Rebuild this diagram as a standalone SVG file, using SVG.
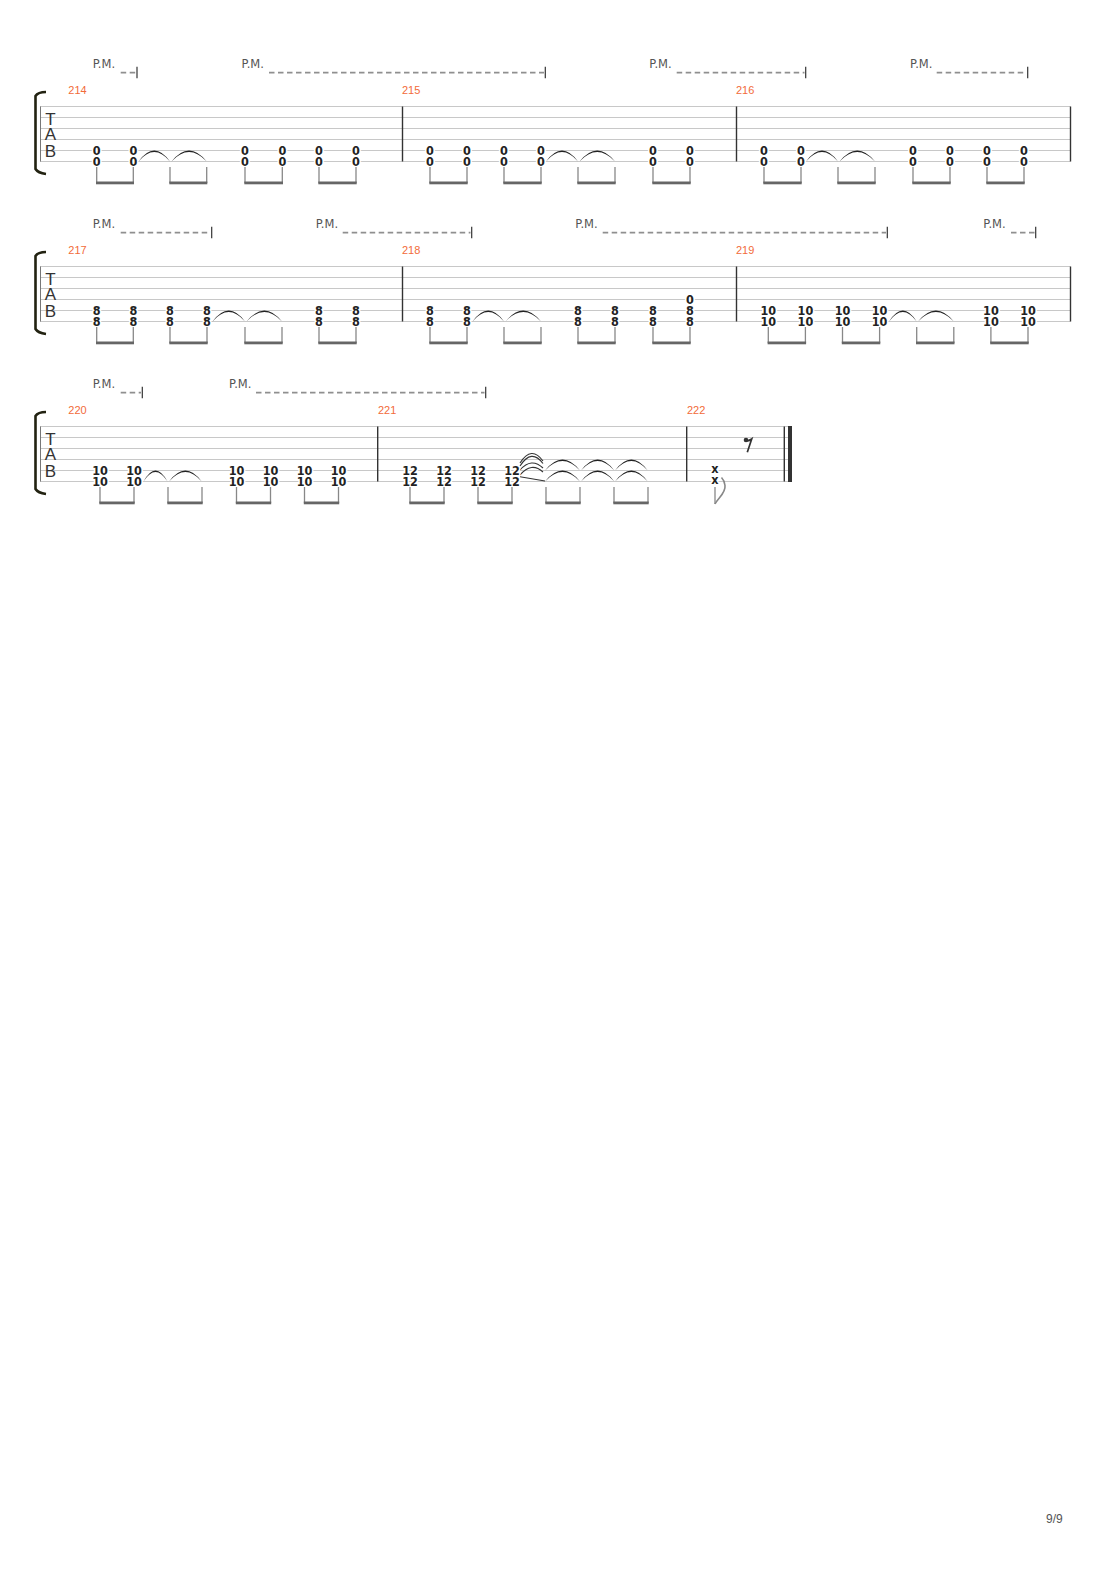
<svg xmlns="http://www.w3.org/2000/svg" width="1110" height="1570" viewBox="0 0 1110 1570">
<defs>
<style>
.st{stroke:#c8c8c8;stroke-width:1;fill:none}
.bar{stroke:#333;stroke-width:1.4}
.sl{stroke:#777;stroke-width:1}
.n{font-family:"DejaVu Sans Condensed","DejaVu Sans",sans-serif;font-stretch:condensed;font-size:12.5px;font-weight:bold;fill:#222;text-anchor:middle;stroke:#fff;stroke-width:3;paint-order:stroke;stroke-linejoin:round}
.mn{font-family:"Liberation Sans",Arial,sans-serif;font-size:11px;fill:#f26b3a}
.pm{font-family:"DejaVu Sans",sans-serif;font-size:11.5px;fill:#555}
.dash{stroke:#8f8f8f;stroke-width:1.8;stroke-dasharray:5.5 3.5}
.tick{stroke:#333;stroke-width:1.2}
.stem{stroke:#888;stroke-width:1.3}
.beam{fill:#666}
.tie{fill:#222}
.tie2{fill:none;stroke:#333;stroke-width:1.1}
.tab{font-family:"Liberation Sans",Arial,sans-serif;font-size:17px;fill:#333;text-anchor:middle}
.br{fill:none;stroke:#222211;stroke-width:2.6}
.pg{font-family:"Liberation Sans",Arial,sans-serif;font-size:12px;fill:#555}
</style>
<g id="staff">
<line class="st" x1="40" y1="106.5" x2="1070.5" y2="106.5"/>
<line class="st" x1="40" y1="117.5" x2="1070.5" y2="117.5"/>
<line class="st" x1="40" y1="128.5" x2="1070.5" y2="128.5"/>
<line class="st" x1="40" y1="139.5" x2="1070.5" y2="139.5"/>
<line class="st" x1="40" y1="150.5" x2="1070.5" y2="150.5"/>
<line class="st" x1="40" y1="161.5" x2="1070.5" y2="161.5"/>
<line class="sl" x1="40.5" y1="106.5" x2="40.5" y2="161.5"/>
<path class="br" d="M46 92 Q38 92 35.5 96 L35.5 169 Q38 173 46 174"/>
<text class="tab" x="50.5" y="125">T<tspan x="50.5" y="140">A</tspan><tspan x="50.5" y="157">B</tspan></text>
</g>
</defs>

<g id="system1">
<use href="#staff"/>
<g id="barlines1">
<line class="bar" x1="402.5" y1="106.5" x2="402.5" y2="161.5"/>
<line class="bar" x1="736.5" y1="106.5" x2="736.5" y2="161.5"/>
<line class="bar" x1="1070.5" y1="106.5" x2="1070.5" y2="161.5"/>
</g>
<text class="mn" x="68.3" y="94">214</text>
<text class="mn" x="402" y="94">215</text>
<text class="mn" x="736" y="94">216</text>
<g id="pm1">
<text class="pm" x="92.7" y="68.3">P.M.</text>
<line class="dash" x1="120.7" y1="72.7" x2="136" y2="72.7"/>
<line class="tick" x1="137" y1="66.7" x2="137" y2="78.3"/>
<text class="pm" x="241.5" y="68.3">P.M.</text>
<line class="dash" x1="269" y1="72.7" x2="544" y2="72.7"/>
<line class="tick" x1="545.3" y1="66.7" x2="545.3" y2="78.3"/>
<text class="pm" x="649.3" y="68.3">P.M.</text>
<line class="dash" x1="676.7" y1="72.7" x2="804.5" y2="72.7"/>
<line class="tick" x1="805.7" y1="66.7" x2="805.7" y2="78.3"/>
<text class="pm" x="910" y="68.3">P.M.</text>
<line class="dash" x1="936.7" y1="72.7" x2="1026.5" y2="72.7"/>
<line class="tick" x1="1027.7" y1="66.7" x2="1027.7" y2="78.3"/>
</g>
<g id="m214">
<path class="tie" d="M138.5 161.5 Q154.3 139.5 170 161.5 Q154.3 142.5 138.5 161.5Z"/>
<path class="tie" d="M171.5 161.5 Q189 139.5 206.7 161.5 Q189 142.5 171.5 161.5Z"/>
<text class="n" x="96.7" y="155">0<tspan x="96.7" dy="11">0</tspan></text>
<text class="n" x="133.3" y="155">0<tspan x="133.3" dy="11">0</tspan></text>
<text class="n" x="245" y="155">0<tspan x="245" dy="11">0</tspan></text>
<text class="n" x="282.3" y="155">0<tspan x="282.3" dy="11">0</tspan></text>
<text class="n" x="319" y="155">0<tspan x="319" dy="11">0</tspan></text>
<text class="n" x="356" y="155">0<tspan x="356" dy="11">0</tspan></text>
<line class="stem" x1="96.7" y1="167" x2="96.7" y2="183"/><line class="stem" x1="133.3" y1="167" x2="133.3" y2="183"/>
<line class="stem" x1="170" y1="167" x2="170" y2="183"/><line class="stem" x1="206.7" y1="167" x2="206.7" y2="183"/>
<line class="stem" x1="245" y1="167" x2="245" y2="183"/><line class="stem" x1="282.3" y1="167" x2="282.3" y2="183"/>
<line class="stem" x1="319" y1="167" x2="319" y2="183"/><line class="stem" x1="356" y1="167" x2="356" y2="183"/>
<rect class="beam" x="96" y="181.5" width="38" height="2.8"/>
<rect class="beam" x="169.3" y="181.5" width="38" height="2.8"/>
<rect class="beam" x="244.3" y="181.5" width="38.7" height="2.8"/>
<rect class="beam" x="318.3" y="181.5" width="38.4" height="2.8"/>
</g>
<g id="m215">
<path class="tie" d="M546 161.5 Q562 139.5 578 161.5 Q562 142.5 546 161.5Z"/>
<path class="tie" d="M579.5 161.5 Q597.3 139.5 615 161.5 Q597.3 142.5 579.5 161.5Z"/>
<text class="n" x="430" y="155">0<tspan x="430" dy="11">0</tspan></text>
<text class="n" x="467" y="155">0<tspan x="467" dy="11">0</tspan></text>
<text class="n" x="504" y="155">0<tspan x="504" dy="11">0</tspan></text>
<text class="n" x="541" y="155">0<tspan x="541" dy="11">0</tspan></text>
<text class="n" x="653" y="155">0<tspan x="653" dy="11">0</tspan></text>
<text class="n" x="690" y="155">0<tspan x="690" dy="11">0</tspan></text>
<line class="stem" x1="430" y1="167" x2="430" y2="183"/><line class="stem" x1="467" y1="167" x2="467" y2="183"/>
<line class="stem" x1="504" y1="167" x2="504" y2="183"/><line class="stem" x1="541" y1="167" x2="541" y2="183"/>
<line class="stem" x1="578" y1="167" x2="578" y2="183"/><line class="stem" x1="615" y1="167" x2="615" y2="183"/>
<line class="stem" x1="653" y1="167" x2="653" y2="183"/><line class="stem" x1="690" y1="167" x2="690" y2="183"/>
<rect class="beam" x="429.3" y="181.5" width="38.4" height="2.8"/>
<rect class="beam" x="503.3" y="181.5" width="38.4" height="2.8"/>
<rect class="beam" x="577.3" y="181.5" width="38.4" height="2.8"/>
<rect class="beam" x="652.3" y="181.5" width="38.4" height="2.8"/>
</g>
<g id="m216">
<path class="tie" d="M806 161.5 Q822 139.5 838 161.5 Q822 142.5 806 161.5Z"/>
<path class="tie" d="M839.5 161.5 Q857.3 139.5 875 161.5 Q857.3 142.5 839.5 161.5Z"/>
<text class="n" x="764" y="155">0<tspan x="764" dy="11">0</tspan></text>
<text class="n" x="801" y="155">0<tspan x="801" dy="11">0</tspan></text>
<text class="n" x="913" y="155">0<tspan x="913" dy="11">0</tspan></text>
<text class="n" x="950" y="155">0<tspan x="950" dy="11">0</tspan></text>
<text class="n" x="987" y="155">0<tspan x="987" dy="11">0</tspan></text>
<text class="n" x="1024" y="155">0<tspan x="1024" dy="11">0</tspan></text>
<line class="stem" x1="764" y1="167" x2="764" y2="183"/><line class="stem" x1="801" y1="167" x2="801" y2="183"/>
<line class="stem" x1="838" y1="167" x2="838" y2="183"/><line class="stem" x1="875" y1="167" x2="875" y2="183"/>
<line class="stem" x1="913" y1="167" x2="913" y2="183"/><line class="stem" x1="950" y1="167" x2="950" y2="183"/>
<line class="stem" x1="987" y1="167" x2="987" y2="183"/><line class="stem" x1="1024" y1="167" x2="1024" y2="183"/>
<rect class="beam" x="763.3" y="181.5" width="38.4" height="2.8"/>
<rect class="beam" x="837.3" y="181.5" width="38.4" height="2.8"/>
<rect class="beam" x="912.3" y="181.5" width="38.4" height="2.8"/>
<rect class="beam" x="986.3" y="181.5" width="38.4" height="2.8"/>
</g>
</g>

<g id="system2" transform="translate(0,160)">
<use href="#staff"/>
<g id="barlines2">
<line class="bar" x1="402.5" y1="106.5" x2="402.5" y2="161.5"/>
<line class="bar" x1="736.5" y1="106.5" x2="736.5" y2="161.5"/>
<line class="bar" x1="1070.5" y1="106.5" x2="1070.5" y2="161.5"/>
</g>
<text class="mn" x="68.3" y="94">217</text>
<text class="mn" x="402" y="94">218</text>
<text class="mn" x="736" y="94">219</text>
<g id="pm2">
<text class="pm" x="92.7" y="68.3">P.M.</text>
<line class="dash" x1="120.7" y1="72.7" x2="210.5" y2="72.7"/>
<line class="tick" x1="211.7" y1="66.7" x2="211.7" y2="78.3"/>
<text class="pm" x="315.7" y="68.3">P.M.</text>
<line class="dash" x1="342.7" y1="72.7" x2="470.5" y2="72.7"/>
<line class="tick" x1="471.7" y1="66.7" x2="471.7" y2="78.3"/>
<text class="pm" x="575.3" y="68.3">P.M.</text>
<line class="dash" x1="602.7" y1="72.7" x2="886" y2="72.7"/>
<line class="tick" x1="887.3" y1="66.7" x2="887.3" y2="78.3"/>
<text class="pm" x="983.3" y="68.3">P.M.</text>
<line class="dash" x1="1011" y1="72.7" x2="1034.5" y2="72.7"/>
<line class="tick" x1="1035.7" y1="66.7" x2="1035.7" y2="78.3"/>
</g>
<g id="m217">
<path class="tie" d="M212.5 161.5 Q228.8 139.5 245 161.5 Q228.8 142.5 212.5 161.5Z"/>
<path class="tie" d="M246.5 161.5 Q264.3 139.5 282 161.5 Q264.3 142.5 246.5 161.5Z"/>
<text class="n" x="96.7" y="155">8<tspan x="96.7" dy="11">8</tspan></text>
<text class="n" x="133.3" y="155">8<tspan x="133.3" dy="11">8</tspan></text>
<text class="n" x="170" y="155">8<tspan x="170" dy="11">8</tspan></text>
<text class="n" x="207" y="155">8<tspan x="207" dy="11">8</tspan></text>
<text class="n" x="319" y="155">8<tspan x="319" dy="11">8</tspan></text>
<text class="n" x="356" y="155">8<tspan x="356" dy="11">8</tspan></text>
<line class="stem" x1="96.7" y1="167" x2="96.7" y2="183"/><line class="stem" x1="133.3" y1="167" x2="133.3" y2="183"/>
<line class="stem" x1="170" y1="167" x2="170" y2="183"/><line class="stem" x1="207" y1="167" x2="207" y2="183"/>
<line class="stem" x1="245" y1="167" x2="245" y2="183"/><line class="stem" x1="282" y1="167" x2="282" y2="183"/>
<line class="stem" x1="319" y1="167" x2="319" y2="183"/><line class="stem" x1="356" y1="167" x2="356" y2="183"/>
<rect class="beam" x="96" y="181.5" width="38" height="2.8"/>
<rect class="beam" x="169.3" y="181.5" width="38.4" height="2.8"/>
<rect class="beam" x="244.3" y="181.5" width="38.4" height="2.8"/>
<rect class="beam" x="318.3" y="181.5" width="38.4" height="2.8"/>
</g>
<g id="m218">
<path class="tie" d="M472.5 161.5 Q488.3 139.5 504 161.5 Q488.3 142.5 472.5 161.5Z"/>
<path class="tie" d="M505.5 161.5 Q523.3 139.5 541 161.5 Q523.3 142.5 505.5 161.5Z"/>
<text class="n" x="430" y="155">8<tspan x="430" dy="11">8</tspan></text>
<text class="n" x="467" y="155">8<tspan x="467" dy="11">8</tspan></text>
<text class="n" x="578" y="155">8<tspan x="578" dy="11">8</tspan></text>
<text class="n" x="615" y="155">8<tspan x="615" dy="11">8</tspan></text>
<text class="n" x="653" y="155">8<tspan x="653" dy="11">8</tspan></text>
<text class="n" x="690" y="144">0<tspan x="690" dy="11">8</tspan><tspan x="690" dy="11">8</tspan></text>
<line class="stem" x1="430" y1="167" x2="430" y2="183"/><line class="stem" x1="467" y1="167" x2="467" y2="183"/>
<line class="stem" x1="504" y1="167" x2="504" y2="183"/><line class="stem" x1="541" y1="167" x2="541" y2="183"/>
<line class="stem" x1="578" y1="167" x2="578" y2="183"/><line class="stem" x1="615" y1="167" x2="615" y2="183"/>
<line class="stem" x1="653" y1="167" x2="653" y2="183"/><line class="stem" x1="690" y1="167" x2="690" y2="183"/>
<rect class="beam" x="429.3" y="181.5" width="38.4" height="2.8"/>
<rect class="beam" x="503.3" y="181.5" width="38.4" height="2.8"/>
<rect class="beam" x="577.3" y="181.5" width="38.4" height="2.8"/>
<rect class="beam" x="652.3" y="181.5" width="38.4" height="2.8"/>
</g>
<g id="m219">
<path class="tie" d="M889 161.5 Q902.8 139.5 916.7 161.5 Q902.8 142.5 889 161.5Z"/>
<path class="tie" d="M918 161.5 Q935.9 139.5 953.8 161.5 Q935.9 142.5 918 161.5Z"/>
<text class="n" x="768.3" y="155">10<tspan x="768.3" dy="11">10</tspan></text>
<text class="n" x="805.4" y="155">10<tspan x="805.4" dy="11">10</tspan></text>
<text class="n" x="842.5" y="155">10<tspan x="842.5" dy="11">10</tspan></text>
<text class="n" x="879.6" y="155">10<tspan x="879.6" dy="11">10</tspan></text>
<text class="n" x="990.9" y="155">10<tspan x="990.9" dy="11">10</tspan></text>
<text class="n" x="1028" y="155">10<tspan x="1028" dy="11">10</tspan></text>
<line class="stem" x1="768.3" y1="167" x2="768.3" y2="183"/><line class="stem" x1="805.4" y1="167" x2="805.4" y2="183"/>
<line class="stem" x1="842.5" y1="167" x2="842.5" y2="183"/><line class="stem" x1="879.6" y1="167" x2="879.6" y2="183"/>
<line class="stem" x1="916.7" y1="167" x2="916.7" y2="183"/><line class="stem" x1="953.8" y1="167" x2="953.8" y2="183"/>
<line class="stem" x1="990.9" y1="167" x2="990.9" y2="183"/><line class="stem" x1="1028" y1="167" x2="1028" y2="183"/>
<rect class="beam" x="767.6" y="181.5" width="38.5" height="2.8"/>
<rect class="beam" x="841.8" y="181.5" width="38.5" height="2.8"/>
<rect class="beam" x="916" y="181.5" width="38.5" height="2.8"/>
<rect class="beam" x="990.2" y="181.5" width="38.5" height="2.8"/>
</g>
</g>

<g id="system3" transform="translate(0,320)">
<g id="staff3">
<line class="st" x1="40" y1="106.5" x2="788" y2="106.5"/>
<line class="st" x1="40" y1="117.5" x2="788" y2="117.5"/>
<line class="st" x1="40" y1="128.5" x2="788" y2="128.5"/>
<line class="st" x1="40" y1="139.5" x2="788" y2="139.5"/>
<line class="st" x1="40" y1="150.5" x2="788" y2="150.5"/>
<line class="st" x1="40" y1="161.5" x2="788" y2="161.5"/>
<line class="sl" x1="40.5" y1="106.5" x2="40.5" y2="161.5"/>
<path class="br" d="M46 92 Q38 92 35.5 96 L35.5 169 Q38 173 46 174"/>
<text class="tab" x="50.5" y="125">T<tspan x="50.5" y="140">A</tspan><tspan x="50.5" y="157">B</tspan></text>
</g>
<g id="barlines3">
<line class="bar" x1="377.7" y1="106.5" x2="377.7" y2="161.5"/>
<line class="bar" x1="686.7" y1="106.5" x2="686.7" y2="161.5"/>
<line class="bar" x1="784.3" y1="106.5" x2="784.3" y2="161.5"/>
<rect x="788" y="106" width="4" height="56" fill="#333"/>
</g>
<text class="mn" x="68.3" y="94">220</text>
<text class="mn" x="378" y="94">221</text>
<text class="mn" x="687" y="94">222</text>
<g id="pm3">
<text class="pm" x="92.7" y="68.3">P.M.</text>
<line class="dash" x1="120.7" y1="72.7" x2="141" y2="72.7"/>
<line class="tick" x1="142.3" y1="66.7" x2="142.3" y2="78.3"/>
<text class="pm" x="229" y="68.3">P.M.</text>
<line class="dash" x1="256" y1="72.7" x2="484.5" y2="72.7"/>
<line class="tick" x1="485.7" y1="66.7" x2="485.7" y2="78.3"/>
</g>
<g id="m220">
<path class="tie" d="M143.5 161.5 Q155.5 139.5 167.5 161.5 Q155.5 142.5 143.5 161.5Z"/>
<path class="tie" d="M169 161.5 Q185.4 139.5 201.7 161.5 Q185.4 142.5 169 161.5Z"/>
<text class="n" x="100" y="155">10<tspan x="100" dy="11">10</tspan></text>
<text class="n" x="134" y="155">10<tspan x="134" dy="11">10</tspan></text>
<text class="n" x="236.5" y="155">10<tspan x="236.5" dy="11">10</tspan></text>
<text class="n" x="270.5" y="155">10<tspan x="270.5" dy="11">10</tspan></text>
<text class="n" x="304.5" y="155">10<tspan x="304.5" dy="11">10</tspan></text>
<text class="n" x="338.5" y="155">10<tspan x="338.5" dy="11">10</tspan></text>
<line class="stem" x1="100" y1="167" x2="100" y2="183"/><line class="stem" x1="134" y1="167" x2="134" y2="183"/>
<line class="stem" x1="168" y1="167" x2="168" y2="183"/><line class="stem" x1="202" y1="167" x2="202" y2="183"/>
<line class="stem" x1="236.5" y1="167" x2="236.5" y2="183"/><line class="stem" x1="270.5" y1="167" x2="270.5" y2="183"/>
<line class="stem" x1="304.5" y1="167" x2="304.5" y2="183"/><line class="stem" x1="338.5" y1="167" x2="338.5" y2="183"/>
<rect class="beam" x="99.3" y="181.5" width="35.4" height="2.8"/>
<rect class="beam" x="167.3" y="181.5" width="35.4" height="2.8"/>
<rect class="beam" x="235.8" y="181.5" width="35.4" height="2.8"/>
<rect class="beam" x="303.8" y="181.5" width="35.4" height="2.8"/>
</g>
<g id="m221">
<path class="tie2" d="M520 143 Q531.5 125 543 141"/>
<path class="tie2" d="M520 146 Q531.5 128 543 143.5"/>
<path class="tie2" d="M520 150 Q531.5 137 543 148"/>
<path class="tie2" d="M520 155 Q531.5 141.5 543 152"/>
<path class="tie2" d="M520 156.7 L545 161"/>
<path class="tie" d="M545 150.5 Q562.5 128.5 580 150.5 Q562.5 131.5 545 150.5Z"/>
<path class="tie" d="M545 161.5 Q562.5 139.5 580 161.5 Q562.5 142.5 545 161.5Z"/>
<path class="tie" d="M581 150.5 Q597.7 128.5 614.3 150.5 Q597.7 131.5 581 150.5Z"/>
<path class="tie" d="M581 161.5 Q597.7 139.5 614.3 161.5 Q597.7 142.5 581 161.5Z"/>
<path class="tie" d="M615 150.5 Q631.4 128.5 647.7 150.5 Q631.4 131.5 615 150.5Z"/>
<path class="tie" d="M615 161.5 Q631.4 139.5 647.7 161.5 Q631.4 142.5 615 161.5Z"/>
<text class="n" x="410" y="155">12<tspan x="410" dy="11">12</tspan></text>
<text class="n" x="444" y="155">12<tspan x="444" dy="11">12</tspan></text>
<text class="n" x="478" y="155">12<tspan x="478" dy="11">12</tspan></text>
<text class="n" x="512" y="155">12<tspan x="512" dy="11">12</tspan></text>
<line class="stem" x1="410" y1="167" x2="410" y2="183"/><line class="stem" x1="444" y1="167" x2="444" y2="183"/>
<line class="stem" x1="478" y1="167" x2="478" y2="183"/><line class="stem" x1="512" y1="167" x2="512" y2="183"/>
<line class="stem" x1="546" y1="167" x2="546" y2="183"/><line class="stem" x1="580" y1="167" x2="580" y2="183"/>
<line class="stem" x1="614" y1="167" x2="614" y2="183"/><line class="stem" x1="648" y1="167" x2="648" y2="183"/>
<rect class="beam" x="409.3" y="181.5" width="35.4" height="2.8"/>
<rect class="beam" x="477.3" y="181.5" width="35.4" height="2.8"/>
<rect class="beam" x="545.3" y="181.5" width="35.4" height="2.8"/>
<rect class="beam" x="613.3" y="181.5" width="35.4" height="2.8"/>
</g>
<g id="m222">
<circle cx="746" cy="120" r="2.3" fill="#333"/>
<path d="M746 121 Q749 121 751.7 119 L747.3 132.3" fill="none" stroke="#333" stroke-width="1.7"/>
<text class="n" x="715" y="153">x<tspan x="715" dy="11">x</tspan></text>
<line class="stem" x1="715" y1="167" x2="715" y2="184"/>
<path d="M715 184 C718 178 726 173 725 165.5 C724.5 161 723.5 159.5 721.5 157.5" fill="none" stroke="#888" stroke-width="1.6"/>
</g>
</g>

<text class="pg" x="1046" y="1523">9/9</text>
</svg>
